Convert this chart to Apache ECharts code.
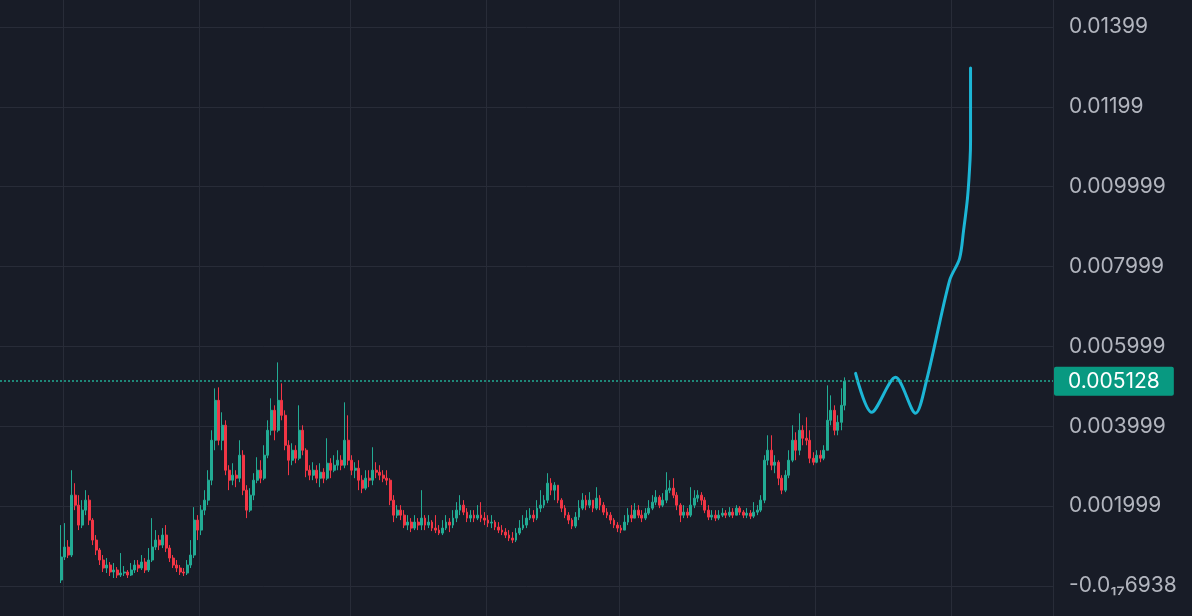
<!DOCTYPE html>
<html>
<head>
<meta charset="utf-8">
<script src="https://cdn.jsdelivr.net/npm/echarts@6/dist/echarts.min.js"></script>
<style>
html,body{margin:0;padding:0;background:#181c27;}
#chart{width:1192px;height:616px;}
</style>
</head>
<body>
<div id="chart"></div>
<script>
// Prices in millionths (1e-6) of the quote unit
const PRICE_UNIT = 1e-6;
const firstOpen = 150;
const closes = [
725,975,775,2275,2025,1525,1900,2150,1650,1150,
900,650,450,525,350,400,275,325,350,275,
400,525,450,600,400,650,975,1150,1025,1275,
950,700,525,450,350,325,525,775,1650,1400,
1900,2150,2650,3650,4650,3650,4025,2900,2650,2775,
2700,3275,2400,1900,2275,2650,2900,2700,3275,3900,
4400,3900,4650,4275,3525,3150,3400,3200,3900,3400,
2900,2775,2900,2700,2850,2700,3075,2900,3025,3150,
3025,3650,3150,2900,2950,2650,2450,2700,2650,2900,
2850,2775,2700,2650,2150,1775,1900,1775,1525,1600,
1450,1600,1525,1700,1525,1600,1450,1400,1325,1450,
1600,1525,1700,1900,2025,1850,1700,1775,1700,1775,
1700,1650,1575,1600,1475,1400,1350,1275,1200,1150,
1325,1450,1525,1700,1775,1700,1950,2025,2150,2575,
2400,2525,2150,1950,1775,1650,1500,1725,1950,2150,
2025,2150,1950,2200,2025,1850,1775,1650,1525,1450,
1400,1600,1775,1700,1900,1775,1700,1825,1950,2100,
2225,2025,2150,2400,2450,2275,2025,1775,1850,1775,
2025,2200,2275,2150,1900,1725,1775,1700,1775,1825,
1775,1850,1775,1950,1850,1775,1825,1750,1850,1900,
2150,3150,3400,3025,3100,2700,2400,2775,3150,3650,
3400,3900,3700,3650,3200,3100,3275,3200,3400,4150,
4400,3900,4100,4525,5128];
const highs = [
1525,1575,1150,2900,2575,2275,2150,2400,2275,1700,
1275,950,775,700,600,575,475,825,500,400,
575,650,650,775,700,950,1700,1400,1275,1450,
1525,1025,775,650,525,450,650,1150,1975,1775,
2025,2400,2900,3900,4950,4975,4350,4150,3025,3075,
2900,3650,3400,2525,2450,2825,3225,3150,3525,4150,
4700,4525,5600,5075,4400,3650,3575,3525,4525,4025,
3450,3025,3100,3025,3075,2950,3700,3200,3275,3400,
3275,4600,4275,3275,3100,3150,2775,2900,2900,3475,
3100,3025,2900,2900,2700,2275,2025,2025,1900,1775,
1700,1775,1700,2400,1775,1775,1650,1775,1525,1650,
1775,1700,1900,2100,2275,2150,1950,1900,1900,2025,
2100,1850,1775,1775,1650,1600,1525,1450,1400,1350,
1450,1650,1775,1900,1950,1900,2150,2400,2275,2825,
2700,2600,2525,2200,2025,1850,1700,1850,2150,2325,
2275,2350,2150,2475,2275,2100,1950,1850,1700,1600,
1525,1775,1950,2025,2075,2025,1900,1950,2150,2275,
2400,2275,2325,2850,2650,2700,2350,2075,2025,1950,
2475,2400,2400,2350,2225,2025,1900,1900,1900,1950,
1900,1975,1950,2025,2000,1900,1950,1900,2100,2025,
2275,3275,3775,3775,3275,3150,2775,2900,3400,4025,
3850,4325,4025,4225,3900,3350,3400,3400,3525,5025,
4775,4525,4275,4950,5225];
const lows = [
75,650,700,725,1900,1400,1450,1775,1525,1025,
775,525,350,325,250,200,200,225,250,200,
250,325,350,400,325,350,600,900,900,950,
850,600,450,350,275,250,275,450,700,1150,
1275,1775,2025,2525,3400,3525,3400,2775,2400,2525,
2475,2600,2275,1700,1850,2150,2575,2575,2650,3200,
3775,3650,3850,4150,3400,2775,3025,3075,3150,3275,
2725,2650,2650,2575,2475,2575,2650,2700,2850,2900,
2900,2950,3025,2775,2700,2400,2325,2400,2475,2525,
2700,2650,2600,2525,2025,1600,1700,1650,1450,1400,
1350,1400,1400,1400,1400,1450,1375,1325,1275,1275,
1400,1350,1450,1600,1775,1775,1600,1600,1600,1650,
1600,1525,1475,1450,1400,1325,1275,1200,1125,1075,
1100,1275,1400,1450,1650,1600,1650,1850,1950,2075,
2275,2150,2075,1850,1700,1550,1425,1450,1650,1900,
1900,1950,1850,1900,1900,1775,1700,1550,1450,1350,
1325,1400,1525,1600,1700,1700,1600,1650,1775,1900,
2025,1950,1975,2075,2325,2200,1900,1600,1700,1700,
1725,1950,2100,2025,1825,1650,1650,1625,1650,1725,
1700,1725,1700,1775,1775,1700,1700,1675,1700,1775,
1850,2075,3025,2900,2825,2525,2300,2350,2700,3100,
3150,3275,3525,3525,3075,3025,3075,3100,3150,3400,
4025,3775,3775,3900,4400];
const firstBar = 17;      // bar slot of the first candle
const totalSlots = 301;   // bar slots on the time axis
// Projection path (bar slot, price)
const projSlot = [244.07, 248.64, 255.5, 261.21, 264.36, 270.93, 273.79, 274.93, 276.07, 276.79, 276.93, 276.93];
const projPrice = [0.005325, 0.00435, 0.005225, 0.004325, 0.00515, 0.00765, 0.0082, 0.0089, 0.009725, 0.010675, 0.01115, 0.012975];
const lastPrice = 0.005128;
const lastPriceLabel = '0.005128';
const tickLabels = ['-0.0₁₇6938','0.001999','0.003999','0.005999','0.007999','0.009999','0.01199','0.01399'];
const gridSlots = [18, 57, 100, 139, 177, 233, 272];

const cats = [];
for (let i = 0; i < totalSlots; i++) cats.push(String(i));
const candleData = [];
for (let i = 0; i < firstBar; i++) candleData.push('-');
for (let i = 0; i < closes.length; i++) {
  const o = (i === 0 ? firstOpen : closes[i - 1]) * PRICE_UNIT;
  const c = closes[i] * PRICE_UNIT;
  const h = Math.max(highs[i] * PRICE_UNIT, o, c);
  const l = Math.min(lows[i] * PRICE_UNIT, o, c);
  candleData.push([o, c, l, h]);
}
const projData = projSlot.map((s, i) => [s, projPrice[i]]);

const chart = echarts.init(document.getElementById('chart'), null, {renderer: 'canvas'});
const FONT = 'Inter, "Noto Sans", sans-serif';
chart.setOption({
  backgroundColor: '#181c27',
  animation: false,
  grid: [
    {left: 0, right: 139, top: 0, bottom: 0},
    {left: 0, right: 139, top: 27, bottom: 30}
  ],
  xAxis: [
    {type: 'category', gridIndex: 0, data: cats, boundaryGap: true,
     axisLine: {show: false}, axisTick: {show: false}, axisLabel: {show: false},
     splitLine: {show: true, interval: (idx) => gridSlots.indexOf(idx) >= 0,
       lineStyle: {color: '#282c38', width: 1}}},
    {type: 'category', gridIndex: 1, data: cats, boundaryGap: true, show: false},
    {type: 'value', gridIndex: 1, min: -0.5, max: totalSlots - 0.5, show: false}
  ],
  yAxis: [
    {type: 'value', gridIndex: 0, show: false, splitLine: {show: false}},
    {type: 'value', gridIndex: 1, position: 'right', min: 0, max: 0.014, interval: 0.002,
     axisLine: {show: false}, axisTick: {show: false},
     splitLine: {show: true, lineStyle: {color: '#282c38', width: 1}},
     axisLabel: {show: true, margin: 16, color: '#b2b5be', fontSize: 21, fontFamily: FONT,
       showMinLabel: true, showMaxLabel: true, hideOverlap: false,
       formatter: (v) => tickLabels[Math.round(v / 0.002)] || ''}}
  ],
  series: [
    {type: 'candlestick', xAxisIndex: 1, yAxisIndex: 1, data: candleData, clip: false,
     barWidth: 2.4,
     itemStyle: {color: '#22ab94', color0: '#f23645', borderColor: '#22ab94', borderColor0: '#f23645', borderWidth: 1}},
    {type: 'line', xAxisIndex: 2, yAxisIndex: 1, data: projData, clip: false,
     showSymbol: false, symbol: 'none', smooth: 0.3,
     lineStyle: {color: '#1cb6d6', width: 3, cap: 'round', join: 'round'},
     markLine: {
       silent: true, symbol: ['none', 'none'], animation: false, precision: 6,
       lineStyle: {color: '#22ab94', width: 1.5, type: [2, 2]},
       label: {show: true, position: 'end', distance: 1, formatter: lastPriceLabel,
         backgroundColor: '#089981', color: '#ffffff', fontSize: 21, fontFamily: FONT,
         padding: [4, 14, 4, 14], borderRadius: 2},
       data: [{yAxis: lastPrice}]
     }}
  ]
});
</script>
</body>
</html>
